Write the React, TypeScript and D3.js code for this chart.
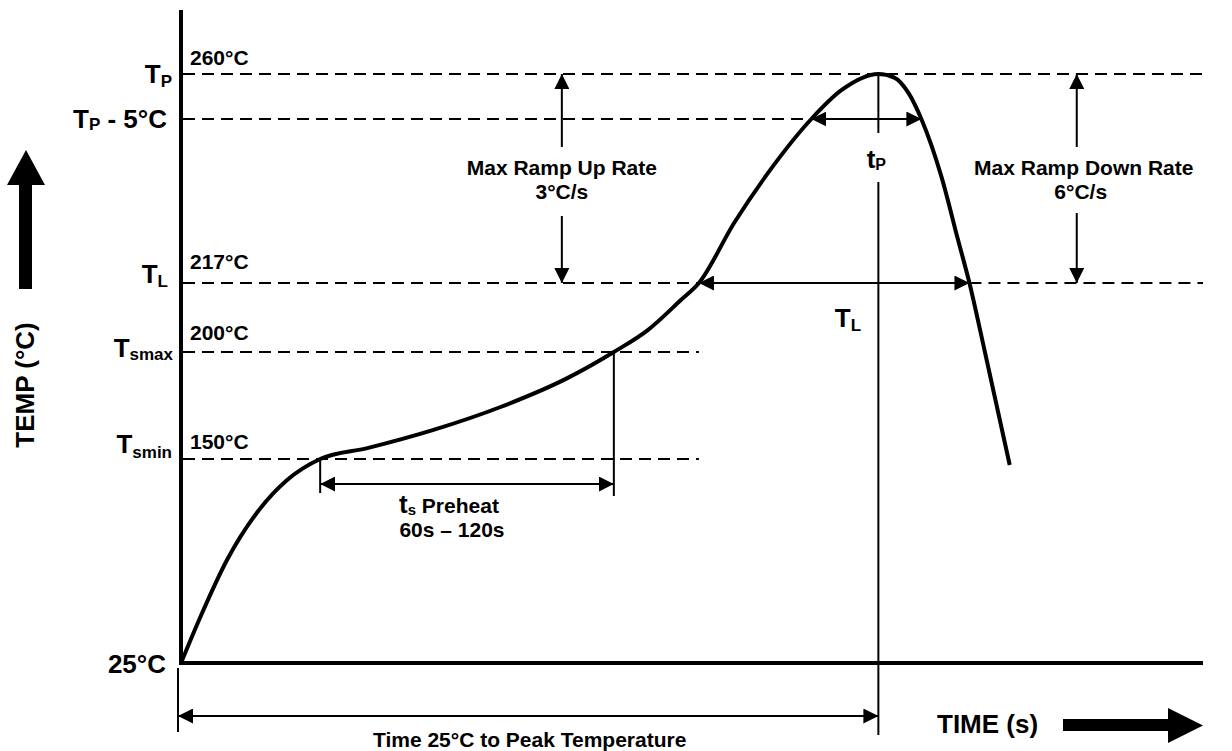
import { useEffect, useRef } from 'react';
import * as d3 from 'd3';

const WIDTH = 1232;
const HEIGHT = 751;

// reflow profile: time (s) and temperature (°C)
const PROFILE_TIME = [0, 6.3, 15.3, 24.7, 35.3, 46.3, 62, 84, 106.3, 128.7, 144, 155.3, 166.3, 172.3, 184, 195.3, 209.7, 219.7, 232, 237.3, 242, 246.3, 253, 258.5, 262.3, 267.3, 275.7];
const PROFILE_TEMP = [25, 52.6, 88.1, 115.7, 137.1, 150, 155.1, 163.6, 174.3, 187.9, 200, 205.4, 212.8, 217, 230.9, 242.5, 255, 258.2, 260, 259.6, 257.9, 255, 241.6, 227, 217, 200.5, 146.3];

// schematic temperature axis (not to scale)
const AXIS_TEMPS = [25, 150, 200, 217, 255, 260];

const LEVEL_VALUES = [260, 217, 200, 150];
const LEVEL_LABELS = ['260°C', '217°C', '200°C', '150°C'];

const SYMBOL_VALUES = [260, 255, 217, 200, 150, 25];
const SYMBOL_MAIN = ['T', 'T', 'T', 'T', 'T', '25°C'];
const SYMBOL_SUB = ['P', 'P', 'L', 'smax', 'smin', ''];
const SYMBOL_TAIL = ['', ' - 5°C', '', '', '', ''];

const TIME_MAX = 340;
const TS_RANGE = [46.3, 144];
const TL_RANGE = [172.3, 262.3];
const TP_RANGE = [209.7, 246.3];
const PEAK_TIME = 232;
const RAMP_UP_AT = 126.7;
const RAMP_DOWN_AT = 298;

const FONT = '"Liberation Sans", Arial, Helvetica, sans-serif';

export default function App() {
  const svgRef = useRef<SVGSVGElement>(null);

  useEffect(() => {
    document.body.style.margin = '0';
    if (!svgRef.current) return;
    const svg = d3.select(svgRef.current);
    svg.selectAll('*').remove();

    const x = d3.scaleLinear().domain([0, TIME_MAX]).range([181, 1203]);
    const y = d3.scaleLinear().domain(AXIS_TEMPS).range([663, 459, 352, 283, 119, 74]);

    const defs = svg.append('defs');
    defs.append('marker')
      .attr('id', 'ah')
      .attr('viewBox', '0 0 10 10')
      .attr('refX', 10)
      .attr('refY', 5)
      .attr('markerUnits', 'userSpaceOnUse')
      .attr('markerWidth', 15)
      .attr('markerHeight', 15)
      .attr('orient', 'auto-start-reverse')
      .append('path')
      .attr('d', 'M0,0L10,5L0,10Z')
      .attr('fill', '#000');

    const g = svg.append('g');

    const line = (x1: number, y1: number, x2: number, y2: number, w = 2) =>
      g.append('line')
        .attr('x1', x1).attr('y1', y1).attr('x2', x2).attr('y2', y2)
        .attr('stroke', '#000').attr('stroke-width', w);

    const dashed = (x1: number, x2: number, yy: number) =>
      line(x1, yy, x2, yy, 2).attr('stroke-dasharray', '12,7');

    const arrow = (x1: number, y1: number, x2: number, y2: number, both = false) => {
      const l = line(x1, y1, x2, y2, 2).attr('marker-end', 'url(#ah)');
      if (both) l.attr('marker-start', 'url(#ah)');
      return l;
    };

    const label = (tx: number, ty: number, anchor = 'middle', size = 21) =>
      g.append('text')
        .attr('x', tx).attr('y', ty)
        .attr('text-anchor', anchor)
        .attr('font-family', FONT)
        .attr('font-weight', 'bold')
        .attr('font-size', size)
        .attr('fill', '#000');

    // dashed temperature levels
    dashed(x(0) + 2, x(TIME_MAX), y(260));
    dashed(x(0) + 2, x(TP_RANGE[0]), y(255));
    dashed(x(0) + 2, x(TL_RANGE[0]), y(217));
    dashed(x(TL_RANGE[1]), x(TIME_MAX), y(217));
    dashed(x(0) + 2, x(TL_RANGE[0]), y(200));
    dashed(x(0) + 2, x(TL_RANGE[0]), y(150));

    // axes
    line(x(0), 10, x(0), y(25) + 2, 4);
    line(x(0), y(25), x(TIME_MAX), y(25), 4);

    // level values
    const levelDy = [-9, -14, -12, -10];
    LEVEL_VALUES.forEach((v, i) => {
      label(x(0) + 9, y(v) + levelDy[i], 'start', 21).text(LEVEL_LABELS[i]);
    });

    // symbols on the left
    const symRight = [172, 167, 168, 173, 172, 166];
    const symDy = [9, 9, 0, 5, -6, 10];
    const subDy = [4, 2, 4, 3, 5, 0];
    SYMBOL_VALUES.forEach((v, i) => {
      const t = label(symRight[i], y(v) + symDy[i], 'end', 26);
      t.append('tspan').text(SYMBOL_MAIN[i]);
      if (SYMBOL_SUB[i]) t.append('tspan').attr('font-size', 17).attr('dy', subDy[i]).text(SYMBOL_SUB[i]);
      if (SYMBOL_TAIL[i]) t.append('tspan').attr('dy', -subDy[i]).text(SYMBOL_TAIL[i]);
    });

    // profile curve
    const pts = PROFILE_TIME.map((t, i) => [t, PROFILE_TEMP[i]] as [number, number]);
    g.append('path')
      .datum(pts)
      .attr('d', d3.line<[number, number]>().x(d => x(d[0])).y(d => y(d[1])).curve(d3.curveMonotoneX))
      .attr('fill', 'none')
      .attr('stroke', '#000')
      .attr('stroke-width', 4)
      .attr('stroke-linejoin', 'round');

    // preheat
    line(x(TS_RANGE[0]), y(150), x(TS_RANGE[0]), y(150) + 34);
    line(x(TS_RANGE[1]), y(200), x(TS_RANGE[1]), y(150) + 37);
    arrow(x(TS_RANGE[0]), y(150) + 25, x(TS_RANGE[1]), y(150) + 25, true);
    const ts = label(399, y(150) + 54, 'start', 21);
    ts.append('tspan').attr('font-size', 26).text('t');
    ts.append('tspan').attr('font-size', 15).attr('dy', 2).text('s');
    ts.append('tspan').attr('dy', -2).text(' Preheat');
    label(452, y(150) + 78, 'middle', 21).text('60s – 120s');

    // ramp up
    arrow(x(RAMP_UP_AT), 147, x(RAMP_UP_AT), y(260));
    arrow(x(RAMP_UP_AT), 216, x(RAMP_UP_AT), y(217));
    label(x(RAMP_UP_AT), 175).text('Max Ramp Up Rate');
    label(x(RAMP_UP_AT), 199).text('3°C/s');

    // ramp down
    arrow(x(RAMP_DOWN_AT), 147, x(RAMP_DOWN_AT), y(260));
    arrow(x(RAMP_DOWN_AT), 213, x(RAMP_DOWN_AT), y(217));
    label(x(RAMP_DOWN_AT) + 7, 175).text('Max Ramp Down Rate');
    label(x(RAMP_DOWN_AT) + 4, 199).text('6°C/s');

    // time at peak
    line(x(PEAK_TIME), y(260), x(PEAK_TIME), 133);
    line(x(PEAK_TIME), 182, x(PEAK_TIME), 735);
    arrow(x(TP_RANGE[0]), y(255), x(TP_RANGE[1]), y(255), true);
    const tp = label(x(PEAK_TIME) - 2, 168, 'middle', 26);
    tp.append('tspan').text('t');
    tp.append('tspan').attr('font-size', 16).attr('dy', 2).text('P');

    // time above liquidus
    arrow(x(TL_RANGE[0]), y(217), x(TL_RANGE[1]), y(217), true);
    const tl = label(848, 327, 'middle', 26);
    tl.append('tspan').text('T');
    tl.append('tspan').attr('font-size', 17).attr('dy', 4).text('L');

    // time 25°C to peak
    line(x(0) - 3, 668, x(0) - 3, 732);
    arrow(x(0) - 3, 716, x(PEAK_TIME), 716, true);
    label((x(0) + x(PEAK_TIME)) / 2, 747, 'middle', 21).text('Time 25°C to Peak Temperature');

    // big axis arrows
    g.append('path').attr('d', 'M19,289V185H7L26,150L45,185H32V289Z').attr('fill', '#000');
    label(0, 0, 'middle', 26).attr('transform', 'translate(34,385) rotate(-90)').text('TEMP (°C)');

    label(937, 733, 'start', 26).text('TIME (s)');
    g.append('path').attr('d', 'M1063,719H1168V708L1203,725.5L1168,743V731H1063Z').attr('fill', '#000');
  }, []);

  return (
    <div style={{ background: '#fff' }}>
      <svg ref={svgRef} width={WIDTH} height={HEIGHT} style={{ display: 'block' }} />
    </div>
  );
}
